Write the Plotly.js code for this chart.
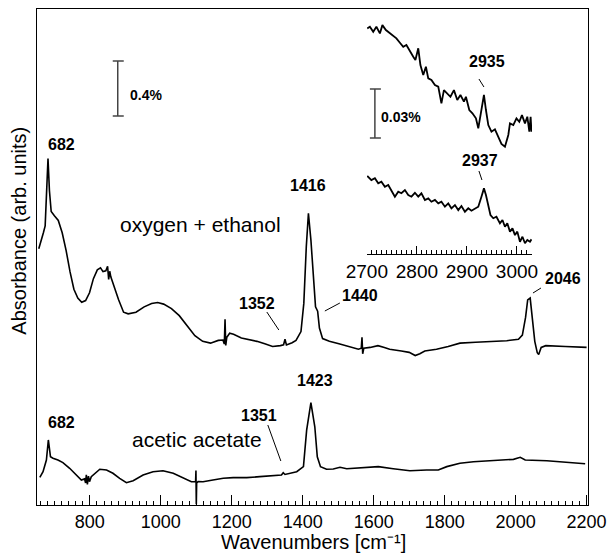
<!DOCTYPE html>
<html>
<head>
<meta charset="utf-8">
<script src="https://cdn.plot.ly/plotly-3.0.1.min.js"></script>
<style>html,body{margin:0;padding:0;background:#fff;}#chart{width:610px;height:554px;}</style>
</head>
<body>
<div id="chart"></div>
<script>
// ---------- data (absorbance in %, wavenumbers in cm-1) ----------
const ethanolWn = [656,661,669,674,678,682,686,691,700,711,722,733,744,755,766,777,788,799,810,821,830,837,845,850,853,856,859,870,881,895,908,930,953,974,991,1008,1030,1052,1074,1096,1118,1140,1162,1175,1179,1181,1183,1186,1194,1205,1227,1249,1271,1293,1315,1337,1346,1350,1354,1370,1381,1395,1403,1410,1416,1423,1430,1436,1442,1447,1456,1475,1502,1535,1557,1565,1567,1569,1572,1590,1612,1630,1645,1678,1700,1717,1730,1744,1777,1810,1843,1887,1931,1975,2008,2019,2028,2034,2041,2047,2054,2061,2065,2072,2085,2140,2200];
const ethanolAbs = [1.864,1.905,1.98,2.03,2.339,2.519,2.287,2.134,2.103,2.069,1.98,1.852,1.697,1.569,1.505,1.474,1.487,1.543,1.646,1.710,1.724,1.697,1.703,1.735,1.640,1.700,1.659,1.569,1.492,1.402,1.39,1.402,1.441,1.466,1.472,1.461,1.428,1.377,1.3,1.231,1.19,1.177,1.197,1.20,1.17,1.35,1.16,1.22,1.249,1.241,1.215,1.205,1.19,1.172,1.153,1.159,1.165,1.205,1.164,1.18,1.197,1.261,1.466,1.877,2.121,1.928,1.621,1.441,1.410,1.287,1.21,1.19,1.172,1.146,1.133,1.14,1.22,1.10,1.14,1.146,1.159,1.145,1.133,1.12,1.11,1.087,1.10,1.12,1.133,1.153,1.177,1.184,1.19,1.195,1.205,1.236,1.364,1.492,1.505,1.364,1.19,1.108,1.095,1.146,1.159,1.153,1.146];

const acetateWn = [659,668,677.5,683,689,696,710,724,743,762,776,785,788,790,793,796,799,804,828,847,865,884,903,922,950,978,1006,1035,1063,1086,1098,1099,1100,1101,1105,1119,1147,1176,1204,1242,1279,1317,1340,1345,1350,1383,1402,1411,1423,1434,1441,1450,1467,1486,1505,1524,1566,1613,1655,1702,1749,1782,1806,1843,1881,1937,1994,2013,2027,2088,2144,2196];
const acetateAbs = [0.201,0.242,0.327,0.473,0.351,0.34,0.327,0.308,0.267,0.218,0.182,0.19,0.16,0.22,0.15,0.21,0.17,0.206,0.26,0.255,0.231,0.194,0.162,0.177,0.218,0.242,0.249,0.231,0.194,0.169,0.17,0.25,0.005,0.16,0.17,0.169,0.182,0.194,0.199,0.199,0.206,0.213,0.218,0.235,0.222,0.242,0.279,0.545,0.744,0.569,0.351,0.279,0.26,0.262,0.274,0.264,0.27,0.279,0.264,0.249,0.255,0.255,0.279,0.303,0.315,0.322,0.332,0.347,0.327,0.322,0.313,0.30];

// inset (C-H region), absorbance in units of 0.01 %
const insetTopWn = [2700.7,2706,2712.7,2719,2726,2731,2738,2746,2752.7,2759,2766,2772.7,2779,2786,2792.7,2797,2802.7,2807,2812.7,2818,2822.7,2829,2836,2842.7,2849,2854,2860.7,2867,2874,2880.7,2887,2894,2898,2904.7,2911,2918,2922.7,2927,2934,2938,2942.7,2949,2956,2962.7,2969,2976,2982.7,2986,2992.7,2999,3004.7,3010,3016,3020.7,3024.7,3027.3,3029];
const insetTopAbs = [13.82,13.92,13.61,13.92,13.51,14.02,13.72,13.51,13.35,13.21,12.94,12.69,12.80,12.39,12.08,11.88,12.60,11.57,10.96,11.47,10.76,10.66,10.35,10.25,9.23,10.04,9.84,9.63,10.04,9.43,9.74,9.33,9.63,8.82,8.62,8.31,7.70,8.41,9.74,8.82,7.90,7.49,7.64,7.18,6.74,6.57,7.29,8.00,7.90,8.31,8.10,8.51,8.00,8.41,7.49,8.41,7.49];
const insetBotWn = [2700.7,2709,2716,2722.7,2729,2736,2742.7,2749,2756,2762.7,2769,2776,2782.7,2789,2796,2802.7,2809,2816,2822.7,2829,2836,2842.7,2849,2856,2862.7,2869,2876,2882.7,2889,2896,2902.7,2909,2916,2922.7,2929,2934,2938,2942.7,2947,2952.7,2959,2966,2971,2976,2980.7,2986,2991,2996,3000.7,3006,3011,3016,3020.7,3026,3029];
const insetBotAbs = [4.78,4.53,4.64,4.33,4.43,4.12,4.23,3.92,3.51,3.82,3.72,3.92,3.61,3.51,3.75,3.51,3.72,3.31,3.41,3.20,3.31,3.10,3.20,2.90,3.10,2.80,3.00,2.69,2.94,2.59,2.80,2.65,2.80,2.90,3.51,4.02,3.61,2.90,2.39,2.19,2.28,1.88,2.08,1.67,1.88,1.37,1.57,1.16,1.37,0.75,1.06,0.66,0.86,0.75,0.90];

const mainTickVals = [800,1000,1200,1400,1600,1800,2000,2200];
const mainTickText = ['800','1000','1200','1400','1600','1800','2000','2200'];
const insetTickVals = [2700,2800,2900,3000];
const insetTickText = ['2700','2800','2900','3000'];

// ---------- layout helpers (pixel -> paper) ----------
const L = 37.3, R = 588, T = 9, B = 505;
function px(x){ return (x - L) / (R - L); }
function py(y){ return (B - y) / (B - T); }
const FONT = 'Liberation Sans, Arial, Helvetica, sans-serif';

function lbl(text, x, y, size, bold){
  return {text: bold ? '<b>' + text + '</b>' : text, x: px(x), y: py(y), xref:'paper', yref:'paper',
    showarrow:false, xanchor:'center', yanchor:'middle', font:{family:FONT, size:size, color:'#000'}};
}
function seg(x0,y0,x1,y1,color,w){
  return {type:'line', xref:'paper', yref:'paper', x0:px(x0), y0:py(y0), x1:px(x1), y1:py(y1), line:{color:color, width:w}};
}

const traces = [
  {x: ethanolWn, y: ethanolAbs, type:'scatter', mode:'lines', line:{color:'#000', width:1.6}, xaxis:'x', yaxis:'y', hoverinfo:'skip'},
  {x: acetateWn, y: acetateAbs, type:'scatter', mode:'lines', line:{color:'#000', width:1.6}, xaxis:'x', yaxis:'y', hoverinfo:'skip'},
  {x: insetTopWn, y: insetTopAbs, type:'scatter', mode:'lines', line:{color:'#000', width:1.8}, xaxis:'x2', yaxis:'y2', hoverinfo:'skip'},
  {x: insetBotWn, y: insetBotAbs, type:'scatter', mode:'lines', line:{color:'#000', width:1.8}, xaxis:'x2', yaxis:'y2', hoverinfo:'skip'}
];

const layout = {
  width:610, height:554,
  margin:{l:37, r:22, t:9, b:49},
  paper_bgcolor:'#fff', plot_bgcolor:'#fff',
  showlegend:false,
  font:{family:FONT, color:'#000'},
  xaxis:{
    range:[651, 2204], showgrid:false, zeroline:false,
    showline:true, mirror:true, linecolor:'#000', linewidth:1.2,
    ticks:'inside', ticklen:10, tickwidth:1, tickcolor:'#000',
    tickmode:'array', tickvals:mainTickVals, ticktext:mainTickText,
    minor:{dtick:20, tick0:0, ticks:'inside', ticklen:4, tickcolor:'#000', tickwidth:1, showgrid:false},
    tickfont:{family:FONT, size:18, color:'#000'}
  },
  xaxis3:{
    range:[651, 2204], overlaying:'x', anchor:'y', side:'bottom',
    showgrid:false, zeroline:false, showline:false, showticklabels:false,
    ticks:'inside', ticklen:7, tickwidth:1, tickcolor:'#000', dtick:100, tick0:0
  },
  yaxis:{
    range:[0, 3.607], showgrid:false, zeroline:false,
    showline:true, mirror:true, linecolor:'#000', linewidth:1.2,
    ticks:'', showticklabels:false
  },
  xaxis2:{
    domain:[px(367), px(532)], range:[2700, 3030], anchor:'y2',
    showgrid:false, zeroline:false, showline:true, linecolor:'#000', linewidth:1,
    ticks:'inside', ticklen:8, tickwidth:1, tickcolor:'#000',
    tickmode:'array', tickvals:insetTickVals, ticktext:insetTickText,
    minor:{dtick:10, tick0:2700, ticks:'inside', ticklen:4, tickcolor:'#000', tickwidth:1, showgrid:false},
    tickfont:{family:FONT, size:19, color:'#000'}
  },
  yaxis2:{
    domain:[py(254), py(15)], range:[0, 14.64], anchor:'x2', visible:false
  },
  annotations:[
    lbl('682', 62, 144, 16, true),
    lbl('1416', 308, 185, 16, true),
    lbl('1352', 257, 303, 16, true),
    lbl('1440', 360, 295, 16, true),
    lbl('2046', 563, 278, 16, true),
    lbl('682', 62, 422, 16, true),
    lbl('1351', 259, 415, 16, true),
    lbl('1423', 315, 380, 16, true),
    lbl('2935', 487, 62, 16, true),
    lbl('2937', 480, 161, 16, true),
    lbl('0.4%', 146.5, 95, 14, true),
    lbl('0.03%', 401.5, 117, 14, true),
    lbl('oxygen + ethanol', 201, 225, 21, false),
    lbl('acetic acetate', 197, 439, 21, false),
    lbl('Wavenumbers [cm\u207B\u00B9]', 314, 542, 20, false),
    Object.assign(lbl('Absorbance (arb. units)', 19, 231, 20, false), {textangle:-90})
  ],
  shapes:[
    // scale bar 0.4 %
    seg(118, 61, 118, 116, '#444', 1.5),
    seg(113, 61, 124, 61, '#444', 1.5),
    seg(113, 116, 124, 116, '#444', 1.5),
    // scale bar 0.03 %
    seg(375, 89, 375, 138, '#444', 1.5),
    seg(370, 89, 381, 89, '#444', 1.5),
    seg(370, 138, 381, 138, '#444', 1.5),
    // leader lines
    seg(267, 312, 279, 330, '#000', 1),
    seg(340, 303, 325, 311, '#000', 1),
    seg(541, 288, 533, 293, '#000', 1),
    seg(268, 425, 281, 461, '#000', 1),
    seg(479, 79, 484, 87, '#000', 1),
    seg(479, 171, 482, 180, '#000', 1)
  ]
};

Plotly.newPlot('chart', traces, layout, {staticPlot:true, displayModeBar:false});
</script>
</body>
</html>
